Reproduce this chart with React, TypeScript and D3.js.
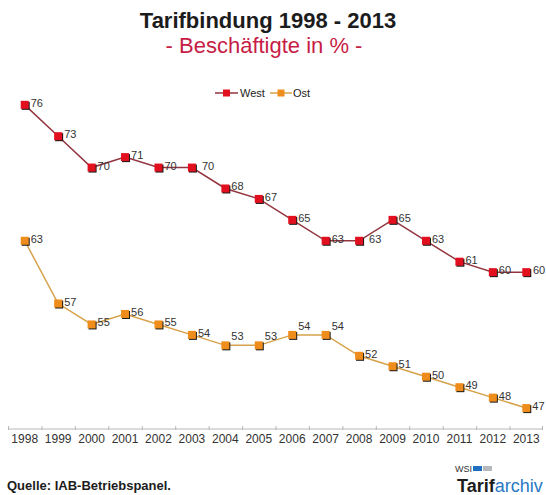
import React from "react";
import * as d3 from "d3";

const years = ["1998","1999","2000","2001","2002","2003","2004","2005","2006","2007","2008","2009","2010","2011","2012","2013"];
const westValues = [76,73,70,71,70,70,68,67,65,63,63,65,63,61,60,60];
const ostValues = [63,57,55,56,55,54,53,53,54,54,52,51,50,49,48,47];
const westLabelPlacement = ["r","r","r","r","r","far","r","r","r","r","far","r","r","r","r","far"];
const ostLabelPlacement = ["r","r","r","r","r","r","up","up","up","up","r","r","r","r","r","r"];
const seriesNames = ["West","Ost"];

const W = 546, H = 495;
const FONT = "'Liberation Sans', Arial, Helvetica, sans-serif";

export default function App() {
  const x = d3.scaleBand<string>().domain(years).range([8, 543]).padding(0);
  const y = d3.scaleLinear().domain([45, 80]).range([429, 63]);
  const cx = (yr: string) => (x(yr) as number) + x.bandwidth() / 2;

  const series = [
    { name: seriesNames[0], values: westValues, placement: westLabelPlacement, marker: "#e2101f", line: "#93353f" },
    { name: seriesNames[1], values: ostValues, placement: ostLabelPlacement, marker: "#ef8d1c", line: "#d6a24a" },
  ];

  const lineGen = d3.line<number>().x((_, i) => cx(years[i])).y((v) => y(v));

  const Marker = ({ px, py, color }: { px: number; py: number; color: string }) => (
    <g>
      <rect x={px - 3} y={py - 3} width={8} height={8} fill="#1a1a1a" />
      <rect x={px - 4} y={py - 4} width={8} height={8} fill={color} />
    </g>
  );

  const axisY = 429;
  const [r0, r1] = x.range();

  return (
    <svg width={W} height={H} style={{ position: "absolute", left: 0, top: 0, background: "#fff" }} fontFamily={FONT}>
      <rect x={0} y={0} width={W} height={H} fill="#fff" />
      <text x={268} y={28} textAnchor="middle" fontSize={22} fontWeight="bold" fill="#1c1c1c">Tarifbindung 1998 - 2013</text>
      <text x={264} y={53} textAnchor="middle" fontSize={22} fill="#c71d45">- Beschäftigte in % -</text>

      {/* legend */}
      <g fontSize={11} fill="#222">
        <line x1={215} x2={238} y1={93} y2={93} stroke={series[0].line} strokeWidth={1.5} />
        <rect x={223} y={89.5} width={7} height={7} fill={series[0].marker} />
        <text x={240} y={97}>{series[0].name}</text>
        <line x1={270} x2={292} y1={93} y2={93} stroke={series[1].line} strokeWidth={1.5} />
        <rect x={277.5} y={89.5} width={7} height={7} fill={series[1].marker} />
        <text x={293} y={97}>{series[1].name}</text>
      </g>

      {/* axis */}
      <line x1={r0} x2={r1} y1={axisY} y2={axisY} stroke="#b8b8b8" strokeWidth={1} />
      {years.map((yr) => (
        <line key={"t" + yr} x1={(x(yr) as number) + 0.5} x2={(x(yr) as number) + 0.5} y1={axisY - 3} y2={axisY + 1} stroke="#b8b8b8" />
      ))}
      <line x1={r1 - 0.5} x2={r1 - 0.5} y1={axisY - 3} y2={axisY + 1} stroke="#b8b8b8" />
      {years.map((yr) => (
        <text key={"l" + yr} x={cx(yr)} y={443} textAnchor="middle" fontSize={12} fill="#333">{yr}</text>
      ))}

      {series.map((s) => (
        <g key={s.name}>
          <path d={lineGen(s.values) || ""} fill="none" stroke={s.line} strokeWidth={1.5} />
          {s.values.map((v, i) => (
            <Marker key={i} px={cx(years[i])} py={y(v)} color={s.marker} />
          ))}
          {s.values.map((v, i) => {
            const px = cx(years[i]);
            const py = y(v);
            const p = s.placement[i];
            const lx = Math.min(p === "far" ? px + 10 : px + 6, W - 13);
            const ly = p === "up" ? py - 5 : py + 2;
            return (
              <text key={"d" + i} x={lx} y={ly} fontSize={11} fill="#333">{v}</text>
            );
          })}
        </g>
      ))}

      {/* footer */}
      <text x={7} y={490} fontSize={13} fontWeight="bold" fill="#1c1c1c">Quelle: IAB-Betriebspanel.</text>
      <g>
        <text x={455} y={472} fontSize={9} fill="#333">WSI</text>
        <rect x={473} y={466} width={9} height={5} fill="#1f6fc0" />
        <rect x={483} y={466} width={9} height={5} fill="#b5b8bd" />
        <text x={457} y={492} fontSize={18}>
          <tspan fontWeight="bold" fill="#1c1c1c">Tarif</tspan>
          <tspan fill="#2a78c4">archiv</tspan>
        </text>
      </g>
    </svg>
  );
}
